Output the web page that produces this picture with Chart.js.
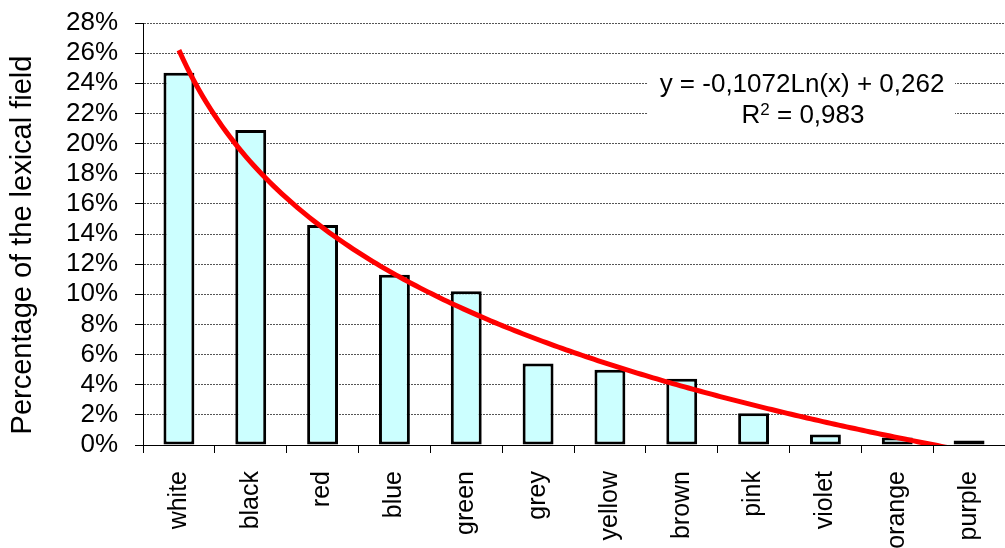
<!DOCTYPE html>
<html>
<head>
<meta charset="utf-8">
<script src="https://cdn.jsdelivr.net/npm/chart.js@4/dist/chart.umd.min.js"></script>
<style>
  html, body { margin: 0; padding: 0; background: #fff; }
  canvas { display: block; }
</style>
</head>
<body>
<canvas id="chart" width="1005" height="548"></canvas>
<script>
// Colour terms and their share of the lexical field
const categories = ['white', 'black', 'red', 'blue', 'green', 'grey', 'yellow', 'brown', 'pink', 'violet', 'orange', 'purple'];
const shares = [0.247, 0.209, 0.146, 0.113, 0.102, 0.054, 0.050, 0.044, 0.021, 0.007, 0.005, 0.003];

// Logarithmic trend line: y = a·ln(x) + b, x = rank of the colour term (1-based)
const trendSlope = -0.1072;
const trendIntercept = 0.262;
const rSquared = 0.983;

// Percentage axis
const yMin = 0;
const yMax = 0.28;
const yStep = 0.02;

const FONT = "'Liberation Sans', Arial, Helvetica, sans-serif";
const decimalComma = v => String(v).replace('.', ',');

// Fitted curve, drawn through the category and value scales and clipped to the plot area
const trendCurve = {
  id: 'trendCurve',
  afterDatasetsDraw(chart) {
    const { ctx, chartArea, scales } = chart;
    const xs = scales.x, ys = scales.y;
    const steps = 200;
    ctx.save();
    ctx.beginPath();
    ctx.rect(chartArea.left, chartArea.top, chartArea.right - chartArea.left, chartArea.bottom - chartArea.top);
    ctx.clip();
    ctx.beginPath();
    for (let i = 0; i <= steps; i++) {
      const rank = 1 + i * (categories.length - 1) / steps;
      const px = xs.getPixelForValue(rank - 1);
      const py = ys.getPixelForValue(trendSlope * Math.log(rank) + trendIntercept);
      if (i === 0) ctx.moveTo(px, py); else ctx.lineTo(px, py);
    }
    ctx.strokeStyle = '#FF0000';
    ctx.lineWidth = 5;
    ctx.lineJoin = 'round';
    ctx.stroke();
    ctx.restore();
  }
};

const annotations = {
  id: 'annotations',
  afterDraw(chart) {
    const ctx = chart.ctx;
    ctx.save();
    // Trend equation box
    ctx.fillStyle = '#fff';
    ctx.fillRect(648, 62, 307, 70);
    ctx.fillStyle = '#000';
    ctx.textBaseline = 'alphabetic';
    ctx.font = '26px ' + FONT;
    ctx.textAlign = 'center';
    ctx.fillText('y = ' + decimalComma(trendSlope) + 'Ln(x) + ' + decimalComma(trendIntercept), 802, 92);

    // R² with a raised exponent
    const rest = ' = ' + decimalComma(rSquared);
    ctx.textAlign = 'left';
    ctx.font = '26px ' + FONT;
    const wR = ctx.measureText('R').width;
    const wRest = ctx.measureText(rest).width;
    ctx.font = '17px ' + FONT;
    const wExp = ctx.measureText('2').width;
    let x0 = 803 - (wR + wExp + wRest) / 2;
    ctx.font = '26px ' + FONT;
    ctx.fillText('R', x0, 123);
    ctx.font = '17px ' + FONT;
    ctx.fillText('2', x0 + wR, 115);
    ctx.font = '26px ' + FONT;
    ctx.fillText(rest, x0 + wR + wExp, 123);

    // Vertical axis title
    ctx.textAlign = 'center';
    ctx.textBaseline = 'middle';
    ctx.translate(23, 245);
    ctx.rotate(-Math.PI / 2);
    ctx.font = '29px ' + FONT;
    ctx.fillText('Percentage of the lexical field', 0, 0);
    ctx.restore();
  }
};

new Chart(document.getElementById('chart'), {
  type: 'bar',
  data: {
    labels: categories,
    datasets: [
      {
        data: shares,
        backgroundColor: '#CCFFFF',
        borderColor: '#000000',
        borderWidth: 3,
        borderSkipped: false,
        barPercentage: 0.43,
        categoryPercentage: 1
      }
    ]
  },
  options: {
    responsive: false,
    animation: false,
    devicePixelRatio: 1,
    layout: { padding: { top: 23, left: 0, right: 0, bottom: 0 } },
    plugins: { legend: { display: false }, tooltip: { enabled: false } },
    scales: {
      x: {
        grid: {
          display: true,
          drawOnChartArea: false,
          drawTicks: true,
          tickLength: 8,
          tickColor: '#000',
          offset: true
        },
        border: { display: true, color: '#000', width: 1 },
        ticks: {
          color: '#000',
          font: { family: FONT, size: 25 },
          minRotation: 90,
          maxRotation: 90,
          autoSkip: false,
          padding: 18
        },
        afterFit(scale) {
          scale.height = 103;
          scale.paddingLeft = 0;
          scale.paddingRight = 0;
        }
      },
      y: {
        min: yMin,
        max: yMax,
        grid: {
          color: '#555',
          lineWidth: 1,
          drawTicks: true,
          tickLength: 8,
          tickColor: '#000',
          tickBorderDash: []
        },
        border: { display: true, color: '#000', width: 1, dash: [2, 1] },
        ticks: {
          stepSize: yStep,
          autoSkip: false,
          color: '#000',
          font: { family: FONT, size: 26 },
          padding: 17,
          callback: v => Math.round(v * 100) + '%'
        },
        afterFit(scale) {
          scale.width = 143;
          scale.paddingTop = 0;
          scale.paddingBottom = 0;
        }
      }
    }
  },
  plugins: [trendCurve, annotations]
});
</script>
</body>
</html>
